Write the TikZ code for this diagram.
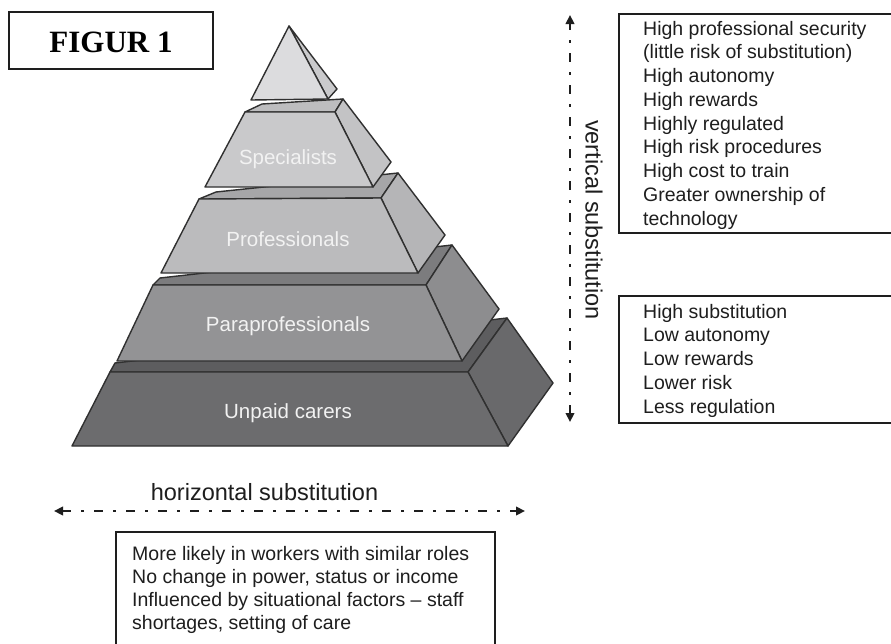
\documentclass[tikz,border=0pt]{standalone}
\usepackage{fontspec}
\setmainfont{Liberation Sans}
\newfontfamily\figfont{Liberation Serif}
\usetikzlibrary{arrows.meta}

% tier shades: front face (F), top face (T), side face (S)
\definecolor{apexF}{HTML}{DCDCDE}
\definecolor{apexS}{HTML}{CACACC}
\definecolor{specF}{HTML}{C9C9CB}
\definecolor{specT}{HTML}{BDBDBF}
\definecolor{specS}{HTML}{C3C3C5}
\definecolor{profF}{HTML}{BBBBBD}
\definecolor{profT}{HTML}{A6A6A8}
\definecolor{profS}{HTML}{B5B5B7}
\definecolor{paraF}{HTML}{939395}
\definecolor{paraT}{HTML}{7C7C7E}
\definecolor{paraS}{HTML}{8D8D8F}
\definecolor{unpF}{HTML}{6C6C6E}
\definecolor{unpT}{HTML}{5D5D5F}
\definecolor{unpS}{HTML}{69696B}
\definecolor{ink}{HTML}{1E1E1E}

\begin{document}
\begin{tikzpicture}[x=1pt,y=-1pt,
  face/.style={draw=ink!92, line width=1.4pt, line join=round},
  framebox/.style={draw=ink, line width=2.4pt, inner sep=0pt, anchor=north west},
  boxtext/.style={anchor=base west, inner sep=0pt, text=ink,
    font=\fontsize{19.5}{23.75}\selectfont},
  tierlabel/.style={anchor=base, inner sep=0pt, text=white!95!black,
    font=\fontsize{20.5}{24}\selectfont},
  axislabel/.style={inner sep=0pt, text=ink, font=\fontsize{23.5}{28}\selectfont},
  subst/.style={draw=ink, line width=2.4pt,
    dash pattern=on 9pt off 10pt on 2.6pt off 10.4pt,
    {Triangle[length=9pt,width=8.5pt]}-{Triangle[length=9pt,width=8.5pt]}},
]
\useasboundingbox (0,0) rectangle (891,643);
\fill[white] (0,0) rectangle (891,643);

% ---- title ----
\node[framebox, anchor=center, minimum width=204pt, minimum height=57pt] (figBox) at (111,40.5) {};
\node[anchor=base, inner sep=0pt, font=\figfont\bfseries\fontsize{31}{36}\selectfont] (figText) at (111,52.7) {FIGUR 1};

% ---- pyramid, bottom tier first ----
% unpaid carers
\filldraw[face, fill=unpT] (110,372) -- (115,363) -- (507,318) -- (468,372) -- cycle;
\filldraw[face, fill=unpS] (468,372) -- (507,318) -- (553,383) -- (508,446) -- cycle;
\filldraw[face, fill=unpF] (110,372) -- (468,372) -- (508,446) -- (72,446) -- cycle;
% paraprofessionals
\filldraw[face, fill=paraT] (153,285) -- (160,278) -- (452,245) -- (426,285) -- cycle;
\filldraw[face, fill=paraS] (426,285) -- (452,245) -- (499,309) -- (462,361) -- cycle;
\filldraw[face, fill=paraF] (153,285) -- (426,285) -- (462,361) -- (117,361) -- cycle;
% professionals
\filldraw[face, fill=profT] (199,199) -- (216,192) -- (398,173) -- (381,198) -- cycle;
\filldraw[face, fill=profS] (381,198) -- (398,173) -- (445,235) -- (418,273) -- cycle;
\filldraw[face, fill=profF] (199,199) -- (381,198) -- (418,273) -- (161,273) -- cycle;
% specialists
\filldraw[face, fill=specT] (245,112) -- (262,104) -- (343,99) -- (335,112) -- cycle;
\filldraw[face, fill=specS] (335,112) -- (343,99) -- (391,162) -- (373,187) -- cycle;
\filldraw[face, fill=specF] (245,112) -- (335,112) -- (373,187) -- (205,187) -- cycle;
% apex
\filldraw[face, fill=apexS] (289,26) -- (337,89) -- (328,99) -- cycle;
\filldraw[face, fill=apexF] (289,26) -- (328,99) -- (251,100) -- cycle;

\node[tierlabel] (specialists) at (288,164) {Specialists};
\node[tierlabel] (professionals) at (288,246.5) {Professionals};
\node[tierlabel] (paraprofessionals) at (288,331) {Paraprofessionals};
\node[tierlabel] (unpaid) at (288,418.5) {Unpaid carers};

% ---- vertical substitution ----
\coordinate (vTop) at (570,15);
\coordinate (vBot) at (570,422);
\draw[subst] (vBot) -- (vTop);
\node[axislabel, rotate=-90] (vLabel) at (594,220) {vertical substitution};

% ---- upper-tier box ----
\node[framebox, minimum width=300pt, minimum height=219pt] (highBox) at (618,13) {};
\foreach \t [count=\i from 0] in {High professional security,
  (little risk of substitution), High autonomy, High rewards,
  Highly regulated, High risk procedures, High cost to train,
  Greater ownership of, technology}
  \node[boxtext] (high\i) at (643,35+23.75*\i) {\t};

% ---- lower-tier box ----
\node[framebox, minimum width=300pt, minimum height=127pt] (lowBox) at (618,295) {};
\foreach \t [count=\i from 0] in {High substitution, Low autonomy,
  Low rewards, Lower risk, Less regulation}
  \node[boxtext] (low\i) at (643,318+23.75*\i) {\t};

% ---- horizontal substitution ----
\node[axislabel, anchor=base] (hLabel) at (264.5,500) {horizontal substitution};
\coordinate (hLeft) at (54,511);
\coordinate (hRight) at (525,511);
\draw[subst] (hLeft) -- (hRight);

\node[framebox, minimum width=379pt, minimum height=140pt] (sideBox) at (115,531) {};
\foreach \t [count=\i from 0] in {More likely in workers with similar roles,
  {No change in power, status or income},
  Influenced by situational factors -- staff,
  {shortages, setting of care}}
  \node[boxtext] (side\i) at (132,560+23*\i) {\t};
\end{tikzpicture}
\end{document}
